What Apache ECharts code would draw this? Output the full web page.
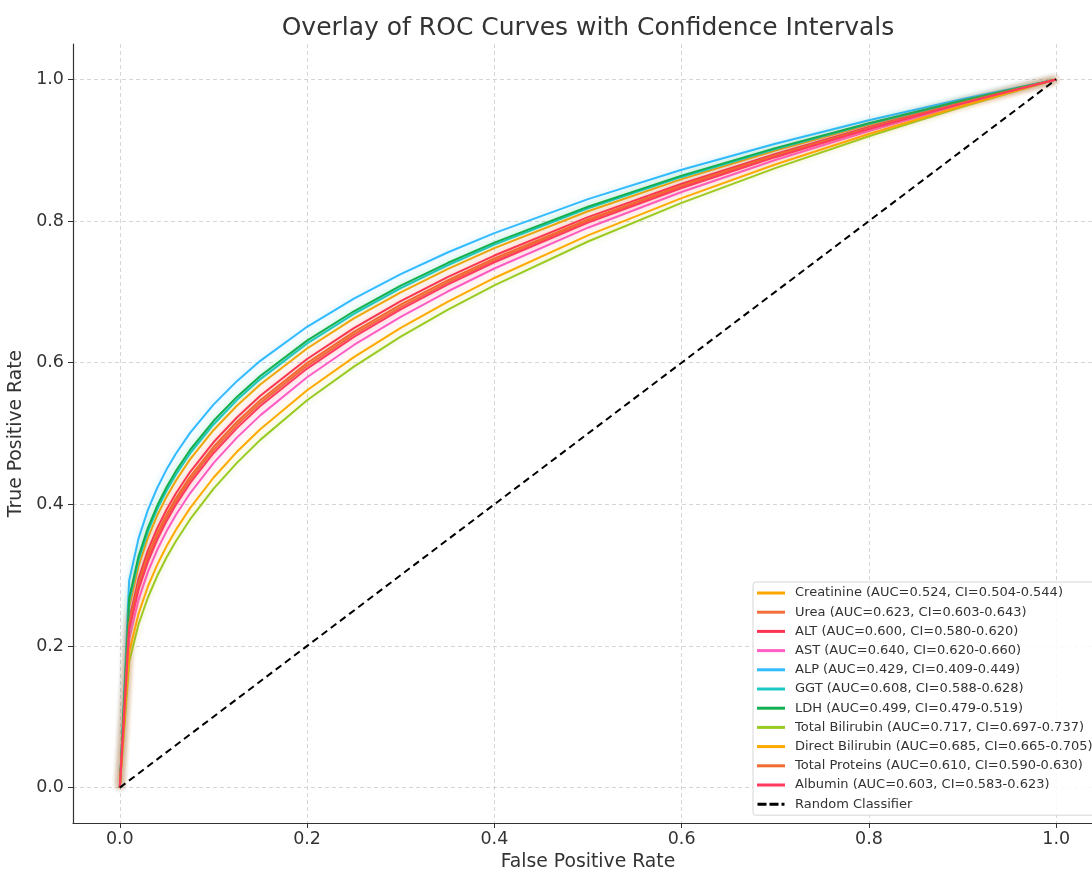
<!DOCTYPE html>
<html>
<head>
<meta charset="utf-8">
<script src="https://cdn.jsdelivr.net/npm/echarts@6/dist/echarts.min.js"></script>
<style>
  html, body { margin: 0; padding: 0; background: #ffffff; }
  #chart { width: 1092px; height: 871px; }
</style>
</head>
<body>
<div id="chart"></div>
<script>
// ---- Data ----
const fpr = [0, 0.01, 0.02, 0.03, 0.04, 0.05, 0.06, 0.075, 0.1, 0.125, 0.15, 0.2, 0.25, 0.3, 0.35, 0.4, 0.5, 0.6, 0.7, 0.8, 0.9, 1.0];

const markers = ['Creatinine', 'Urea', 'ALT', 'AST', 'ALP', 'GGT', 'LDH', 'Total Bilirubin', 'Direct Bilirubin', 'Total Proteins', 'Albumin'];
const aucValues = [0.524, 0.623, 0.600, 0.640, 0.429, 0.608, 0.499, 0.717, 0.685, 0.610, 0.603];
const ciLower   = [0.504, 0.603, 0.580, 0.620, 0.409, 0.588, 0.479, 0.697, 0.665, 0.590, 0.583];
const ciUpper   = [0.544, 0.643, 0.620, 0.660, 0.449, 0.628, 0.519, 0.737, 0.705, 0.630, 0.623];

const tprCreatinine = [0, 0.2547, 0.3129, 0.3529, 0.3845, 0.4108, 0.4336, 0.4634, 0.5046, 0.5392, 0.5692, 0.6200, 0.6625, 0.6993, 0.7321, 0.7618, 0.8139, 0.8592, 0.8995, 0.9359, 0.9692, 1];
const tprUrea       = [0, 0.2270, 0.2837, 0.3233, 0.3547, 0.3811, 0.4042, 0.4343, 0.4766, 0.5119, 0.5429, 0.5956, 0.6399, 0.6786, 0.7132, 0.7445, 0.8000, 0.8483, 0.8915, 0.9307, 0.9667, 1];
const tprALT        = [0, 0.2377, 0.2951, 0.3349, 0.3663, 0.3927, 0.4157, 0.4456, 0.4876, 0.5226, 0.5532, 0.6052, 0.6489, 0.6869, 0.7207, 0.7513, 0.8056, 0.8527, 0.8947, 0.9328, 0.9676, 1];
const tprAST        = [0, 0.2099, 0.2654, 0.3046, 0.3358, 0.3622, 0.3853, 0.4156, 0.4581, 0.4942, 0.5256, 0.5794, 0.6250, 0.6648, 0.7005, 0.7330, 0.7906, 0.8410, 0.8861, 0.9272, 0.9649, 1];
const tprALP        = [0, 0.2924, 0.3519, 0.3921, 0.4234, 0.4494, 0.4718, 0.5008, 0.5408, 0.5739, 0.6026, 0.6507, 0.6906, 0.7251, 0.7556, 0.7830, 0.8310, 0.8725, 0.9092, 0.9422, 0.9723, 1];
const tprGGT        = [0, 0.2630, 0.3216, 0.3617, 0.3932, 0.4194, 0.4422, 0.4718, 0.5128, 0.5472, 0.5768, 0.6271, 0.6690, 0.7053, 0.7375, 0.7667, 0.8179, 0.8623, 0.9018, 0.9373, 0.9699, 1];
const tprLDH        = [0, 0.2679, 0.3267, 0.3668, 0.3983, 0.4245, 0.4472, 0.4767, 0.5176, 0.5517, 0.5812, 0.6311, 0.6726, 0.7087, 0.7407, 0.7695, 0.8202, 0.8641, 0.9030, 0.9382, 0.9703, 1];
const tprTBil       = [0, 0.1778, 0.2306, 0.2684, 0.2991, 0.3252, 0.3482, 0.3786, 0.4217, 0.4585, 0.4910, 0.5469, 0.5945, 0.6367, 0.6745, 0.7092, 0.7711, 0.8256, 0.8748, 0.9197, 0.9613, 1];
const tprDBil       = [0, 0.1914, 0.2455, 0.2840, 0.3148, 0.3412, 0.3642, 0.3946, 0.4375, 0.4741, 0.5061, 0.5611, 0.6079, 0.6491, 0.6860, 0.7196, 0.7797, 0.8324, 0.8798, 0.9230, 0.9629, 1];
const tprTProt      = [0, 0.2312, 0.2882, 0.3279, 0.3593, 0.3858, 0.4088, 0.4388, 0.4809, 0.5162, 0.5470, 0.5994, 0.6435, 0.6819, 0.7162, 0.7472, 0.8022, 0.8501, 0.8928, 0.9315, 0.9671, 1];
const tprAlbumin    = [0, 0.2228, 0.2794, 0.3188, 0.3502, 0.3766, 0.3996, 0.4298, 0.4721, 0.5076, 0.5388, 0.5917, 0.6364, 0.6754, 0.7102, 0.7418, 0.7977, 0.8466, 0.8902, 0.9299, 0.9662, 1];

const randomFpr = [0, 1];
const randomTpr = [0, 1];

const tickValues = [0, 0.2, 0.4, 0.6, 0.8, 1.0];

// ---- Styles ----
const colors = ['#FFA500', '#F26E3A', '#FB3552', '#FF5EC4', '#33BBFF', '#1CC8C4', '#12B04F', '#9ACB22', '#FFAA00', '#F26A2E', '#FF3A5E'];
const font = 'DejaVu Sans';

const tprList = [tprCreatinine, tprUrea, tprALT, tprAST, tprALP, tprGGT, tprLDH, tprTBil, tprDBil, tprTProt, tprAlbumin];

const labels = markers.map((m, i) =>
  `${m} (AUC=${aucValues[i].toFixed(3)}, CI=${ciLower[i].toFixed(3)}-${ciUpper[i].toFixed(3)})`);

const series = markers.map((m, i) => ({
  name: labels[i],
  type: 'line',
  data: fpr.map((x, j) => [x, tprList[i][j]]),
  showSymbol: false,
  symbol: 'none',
  smooth: false,
  clip: true,
  color: colors[i],
  lineStyle: {
    width: 2,
    color: colors[i],
    shadowColor: colors[i] + '55',
    shadowBlur: 6,
    join: 'round'
  },
  emphasis: { disabled: true },
  z: 3
}));

series.push({
  name: 'Random Classifier',
  type: 'line',
  data: randomFpr.map((x, j) => [x, randomTpr[j]]),
  showSymbol: false,
  symbol: 'none',
  color: '#000000',
  lineStyle: { width: 2, type: [7, 4.5], color: '#000000' },
  emphasis: { disabled: true },
  z: 4
});

const legendData = labels.map(n => ({ name: n, icon: 'rect' }));
legendData.push({ name: 'Random Classifier', icon: 'path://M0,0 H9 V3 H0 Z M12,0 H21 V3 H12 Z M24,0 H27 V3 H24 Z' });

const option = {
  animation: false,
  backgroundColor: '#ffffff',
  title: {
    text: 'Overlay of ROC Curves with Confidence Intervals',
    left: 583,
    textAlign: 'center',
    top: 11,
    textStyle: { fontFamily: font, fontSize: 25, fontWeight: 'normal', color: '#333333' }
  },
  grid: { left: 73, top: 44, width: 1030, height: 779, containLabel: false, outerBoundsMode: 'none' },
  legend: {
    orient: 'vertical',
    left: 753,
    top: 582,
    data: legendData,
    itemWidth: 28,
    itemHeight: 3,
    itemGap: 5.2,
    padding: [4, 6, 4, 4],
    backgroundColor: 'rgba(255,255,255,0.85)',
    borderColor: '#d6d6d6',
    borderWidth: 1,
    borderRadius: 3,
    selectedMode: false,
    textStyle: { fontFamily: font, fontSize: 13, color: '#333333', lineHeight: 14, padding: [0, 0, 0, 5] }
  },
  xAxis: {
    type: 'value',
    min: -0.05,
    max: 1.05,
    name: 'False Positive Rate',
    nameLocation: 'middle',
    nameGap: 28,
    nameTextStyle: { fontFamily: font, fontSize: 18.8, color: '#333333' },
    axisLine: { show: true, onZero: false, lineStyle: { color: '#333333', width: 1.2 } },
    axisTick: { show: true, length: 5, customValues: tickValues, lineStyle: { color: '#333333' } },
    axisLabel: {
      customValues: tickValues,
      margin: 7,
      fontFamily: font, fontSize: 17.5, color: '#333333',
      formatter: v => v.toFixed(1)
    },
    splitLine: { show: true, lineStyle: { color: '#cccccc', type: [4, 3], width: 0.8 } }
  },
  yAxis: {
    type: 'value',
    min: -0.05,
    max: 1.05,
    name: 'True Positive Rate',
    nameLocation: 'middle',
    nameGap: 44,
    nameTextStyle: { fontFamily: font, fontSize: 18.8, color: '#333333' },
    axisLine: { show: true, onZero: false, lineStyle: { color: '#333333', width: 1.2 } },
    axisTick: { show: true, length: 5, customValues: tickValues, lineStyle: { color: '#333333' } },
    axisLabel: {
      customValues: tickValues,
      margin: 9,
      fontFamily: font, fontSize: 17.5, color: '#333333',
      formatter: v => v.toFixed(1)
    },
    splitLine: { show: true, lineStyle: { color: '#cccccc', type: [4, 3], width: 0.8 } }
  },
  series: series
};

const chart = echarts.init(document.getElementById('chart'), null, { renderer: 'canvas' });
chart.setOption(option);
</script>
</body>
</html>
